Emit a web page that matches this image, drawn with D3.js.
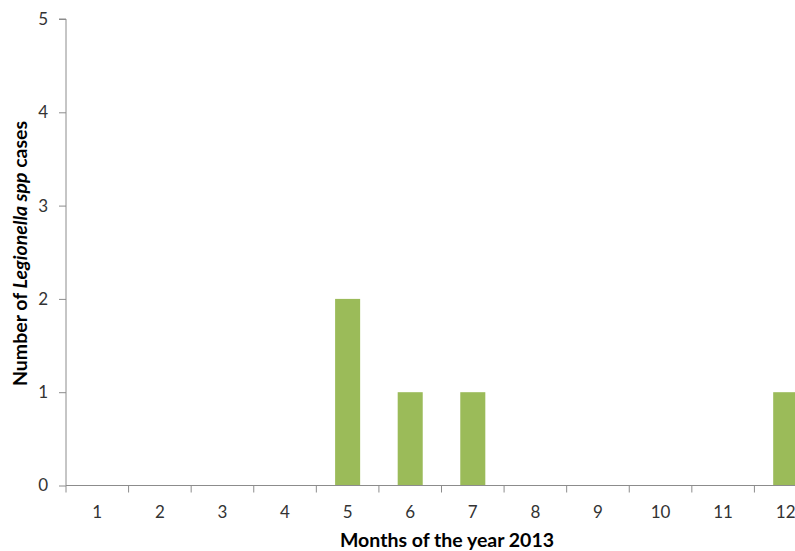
<!DOCTYPE html>
<html>
<head>
<meta charset="utf-8">
<script src="https://cdn.jsdelivr.net/npm/d3@7"></script>
<style>
  html, body { margin: 0; padding: 0; background: #fff; overflow: hidden; }
  svg { display: block; }
</style>
</head>
<body>
<svg id="chart" width="795" height="551"></svg>
<script>
// Legionella spp cases per month, 2013
const months = ["1", "2", "3", "4", "5", "6", "7", "8", "9", "10", "11", "12"];
const cases = [0, 0, 0, 0, 2, 1, 1, 0, 0, 0, 0, 1];
const yTicks = [0, 1, 2, 3, 4, 5];

const svg = d3.select("#chart");
const font = "Lato, 'Open Sans', sans-serif";
const axisColor = "#8c8c8c";
const textColor = "#333333";

// Plot area (right edge runs past the window)
const plotLeft = 66, plotRight = 817, plotTop = 19, plotBottom = 485.5;

const x = d3.scaleBand()
  .domain(months)
  .range([plotLeft, plotRight])
  .paddingInner(0.6)
  .paddingOuter(0.3);

const y = d3.scaleLinear()
  .domain([0, 5])
  .range([plotBottom, plotTop]);

// Bars
svg.append("g")
  .selectAll("rect")
  .data(months.map((m, i) => ({ m, v: cases[i] })).filter(d => d.v > 0))
  .join("rect")
  .attr("x", d => x(d.m))
  .attr("y", d => y(d.v))
  .attr("width", x.bandwidth())
  .attr("height", d => y(0) - y(d.v))
  .attr("fill", "#9bbb59");

// Y axis
const yAxis = svg.append("g")
  .attr("transform", `translate(${plotLeft},0)`)
  .call(d3.axisLeft(y).tickValues(yTicks).tickSize(7).tickPadding(11).tickFormat(d3.format("d")));
yAxis.select(".domain").attr("stroke", axisColor).attr("d", `M-7,${plotTop}H0V${plotBottom}`);
yAxis.selectAll(".tick line").attr("stroke", axisColor);
yAxis.selectAll(".tick text")
  .attr("fill", textColor)
  .style("font-family", font)
  .style("font-size", "17px");

// X axis: ticks at band boundaries, labels at band centres
const step = x.step();
const xAxis = svg.append("g").attr("transform", `translate(0,${plotBottom})`);
xAxis.append("line")
  .attr("x1", plotLeft).attr("x2", plotRight)
  .attr("stroke", axisColor);
xAxis.selectAll("line.tick")
  .data(d3.range(months.length + 1).map(i => plotLeft + i * step))
  .join("line")
  .attr("class", "tick")
  .attr("x1", d => d).attr("x2", d => d)
  .attr("y1", 0).attr("y2", 7)
  .attr("stroke", axisColor);
xAxis.selectAll("text")
  .data(months)
  .join("text")
  .attr("x", d => x(d) + x.bandwidth() / 2)
  .attr("y", 32)
  .attr("text-anchor", "middle")
  .attr("fill", textColor)
  .style("font-family", font)
  .style("font-size", "17px")
  .text(d => d);

// Axis titles
svg.append("text")
  .attr("x", 447)
  .attr("y", 547)
  .attr("text-anchor", "middle")
  .attr("fill", "#000")
  .style("font-family", font)
  .style("font-size", "19.5px")
  .style("font-weight", "bold")
  .text("Months of the year 2013");

const yTitle = svg.append("text")
  .attr("transform", `translate(27,253.5) rotate(-90)`)
  .attr("text-anchor", "middle")
  .attr("fill", "#000")
  .style("font-family", font)
  .style("font-size", "19.5px")
  .style("font-weight", "bold");
yTitle.append("tspan").text("Number of ");
yTitle.append("tspan").style("font-style", "italic").text("Legionella spp");
yTitle.append("tspan").text(" cases");
</script>
</body>
</html>
